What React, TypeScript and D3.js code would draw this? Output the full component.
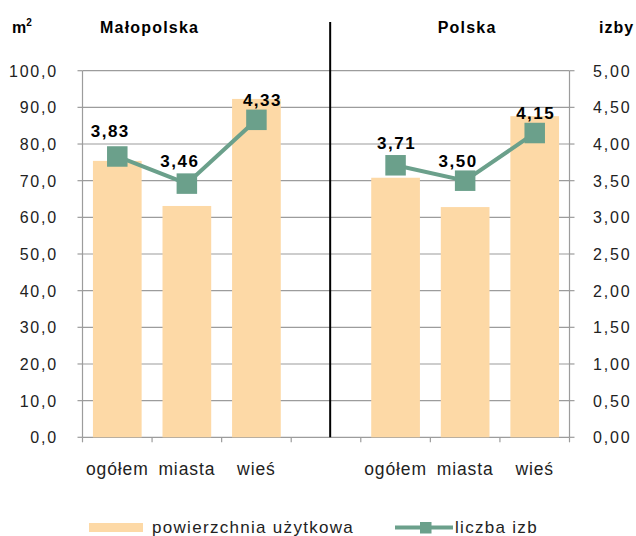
import React from "react";
import * as d3 from "d3";

const categories = ["ogółem", "miasta", "wieś", "", "ogółem ", "miasta ", "wieś "];
const groups = ["Małopolska", "Polska"];
const areaValues = [75.4, 63.1, 92.3, null, 70.8, 62.8, 87.6];
const roomValuesMalopolska = [3.83, 3.46, 4.33];
const roomValuesPolska = [3.71, 3.5, 4.15];
const leftTicks = [0, 10, 20, 30, 40, 50, 60, 70, 80, 90, 100];
const rightTicks = [0, 0.5, 1, 1.5, 2, 2.5, 3, 3.5, 4, 4.5, 5];
const legendLabels = ["powierzchnia użytkowa", "liczba izb"];

// label nudges (layout only)
const labelDx = [-7, -7, 6, 1, -7, 1];
const labelDy = [-9, -6, -4, -6, -3, -4];

const W = 636;
const H = 536;
const M = { left: 82.5, right: 569.5, top: 70.7, bottom: 437.3 };
const FONT = "'Liberation Sans', Arial, sans-serif";
const BAR = "#fdd9a6";
const LINE = "#6ba08b";
const GRID = "#9c9c9c";

export default function App() {
  const x = d3.scaleBand<string>().domain(categories).range([M.left, M.right]).paddingInner(0).paddingOuter(0);
  const yL = d3.scaleLinear().domain([0, 100]).range([M.bottom, M.top]);
  const yR = d3.scaleLinear().domain([0, 5]).range([M.bottom, M.top]);
  const bw = x.bandwidth();
  const barW = bw * 0.7;
  const fmt1 = (v: number) => d3.format(".1f")(v).replace(".", ",");
  const fmt2 = (v: number) => d3.format(".2f")(v).replace(".", ",");

  const lineGen = d3
    .line<[string, number]>()
    .x((d) => (x(d[0]) as number) + bw / 2)
    .y((d) => yR(d[1]));
  const seriesM: [string, number][] = roomValuesMalopolska.map((v, i) => [categories[i], v]);
  const seriesP: [string, number][] = roomValuesPolska.map((v, i) => [categories[i + 4], v]);
  const allPts = [...seriesM, ...seriesP];

  const sepX = (x(categories[3]) as number) + bw * 0.56;
  const boundaries = d3.range(categories.length + 1).map((i) => M.left + i * bw);

  const groupCenterP = ((x(categories[4]) as number) + (x(categories[6]) as number) + bw) / 2;

  const ms = 20.5;

  return (
    <svg
      width={W}
      height={H}
      style={{ position: "absolute", left: 0, top: 0, background: "#fff" }}
      fontFamily={FONT}
    >
      {/* gridlines */}
      {leftTicks.map((t) => (
        <line key={"g" + t} x1={M.left} x2={M.right} y1={yL(t)} y2={yL(t)} stroke={GRID} strokeWidth={1.2} />
      ))}
      {/* axes */}
      <line x1={M.left} x2={M.left} y1={M.top} y2={M.bottom} stroke={GRID} strokeWidth={1.2} />
      <line x1={M.right} x2={M.right} y1={M.top} y2={M.bottom} stroke={GRID} strokeWidth={1.2} />
      {leftTicks.map((t) => (
        <line key={"lt" + t} x1={M.left - 5} x2={M.left} y1={yL(t)} y2={yL(t)} stroke={GRID} strokeWidth={1.2} />
      ))}
      {rightTicks.map((t) => (
        <line key={"rt" + t} x1={M.right} x2={M.right + 5} y1={yR(t)} y2={yR(t)} stroke={GRID} strokeWidth={1.2} />
      ))}
      {boundaries.map((bx, i) => (
        <line key={"bt" + i} x1={bx} x2={bx} y1={M.bottom} y2={M.bottom + 5} stroke={GRID} strokeWidth={1.2} />
      ))}
      {/* bars */}
      {areaValues.map((v, i) =>
        v == null ? null : (
          <rect
            key={"b" + i}
            x={(x(categories[i]) as number) + (bw - barW) / 2}
            y={yL(v)}
            width={barW}
            height={M.bottom - yL(v)}
            fill={BAR}
          />
        )
      )}
      {/* separator */}
      <line x1={sepX} x2={sepX} y1={22} y2={M.bottom} stroke="#000" strokeWidth={2} />
      {/* lines */}
      {[seriesM, seriesP].map((s, i) => (
        <path key={"l" + i} d={lineGen(s) || ""} fill="none" stroke={LINE} strokeWidth={4} />
      ))}
      {allPts.map((d, i) => (
        <rect
          key={"m" + i}
          x={(x(d[0]) as number) + bw / 2 - ms / 2}
          y={yR(d[1]) - ms / 2}
          width={ms}
          height={ms}
          fill={LINE}
        />
      ))}
      {allPts.map((d, i) => (
        <text
          key={"dl" + i}
          x={(x(d[0]) as number) + bw / 2 + labelDx[i]}
          y={yR(d[1]) - ms / 2 + labelDy[i]}
          textAnchor="middle"
          fontSize={17}
          fontWeight="bold"
          letterSpacing={1.5}
          fill="#000"
        >
          {fmt2(d[1])}
        </text>
      ))}
      {/* left tick labels */}
      {leftTicks.map((t) => (
        <text key={"ll" + t} x={58} y={yL(t) + 6} textAnchor="end" fontSize={16} letterSpacing={1.8} fill="#222">
          {fmt1(t)}
        </text>
      ))}
      {rightTicks.map((t) => (
        <text key={"rl" + t} x={593} y={yR(t) + 6} textAnchor="start" fontSize={16} letterSpacing={1.8} fill="#222">
          {fmt2(t)}
        </text>
      ))}
      {/* category labels */}
      {categories.map((c, i) =>
        c.trim() === "" ? null : (
          <text
            key={"c" + i}
            x={(x(c) as number) + bw / 2}
            y={475}
            textAnchor="middle"
            fontSize={17.5}
            letterSpacing={0.9}
            fill="#222"
          >
            {c.trim()}
          </text>
        )
      )}
      {/* titles */}
      <text x={12} y={33} fontSize={16} fontWeight="bold" fill="#000">
        m<tspan dy={-7} fontSize={10}>2</tspan>
      </text>
      <text x={100} y={33} textAnchor="start" fontSize={16} fontWeight="bold" letterSpacing={1.2} fill="#000">
        {groups[0]}
      </text>
      <text x={groupCenterP + 2} y={33} textAnchor="middle" fontSize={16} fontWeight="bold" letterSpacing={1.2} fill="#000">
        {groups[1]}
      </text>
      <text x={599} y={33} fontSize={16} fontWeight="bold" letterSpacing={1} fill="#000">
        izby
      </text>
      {/* legend */}
      <rect x={89} y={523} width={54} height={9} fill={BAR} />
      <text x={152} y={533} fontSize={17} letterSpacing={1.3} fill="#222">
        {legendLabels[0]}
      </text>
      <line x1={395} x2={453} y1={527.5} y2={527.5} stroke={LINE} strokeWidth={4} />
      <rect x={420} y={522} width={11.5} height={11.5} fill={LINE} />
      <text x={455} y={533} fontSize={17} letterSpacing={1.3} fill="#222">
        {legendLabels[1]}
      </text>
    </svg>
  );
}
